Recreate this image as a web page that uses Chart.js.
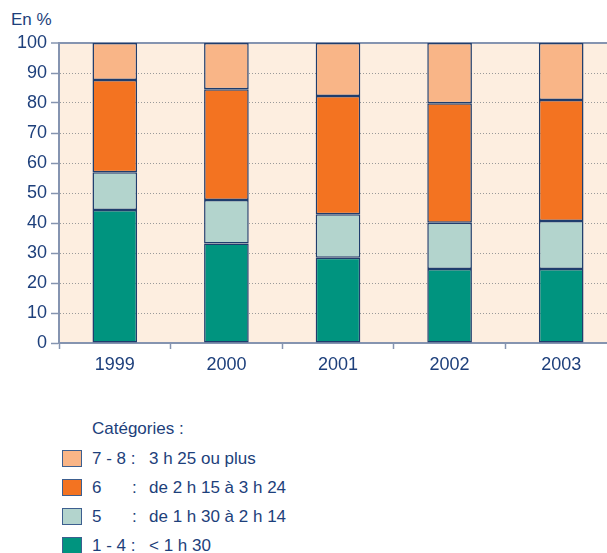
<!DOCTYPE html>
<html>
<head>
<meta charset="utf-8">
<script src="https://cdn.jsdelivr.net/npm/chart.js@4/dist/chart.umd.min.js"></script>
<style>
  body { margin: 0; background: #fff; }
  #page { position: relative; width: 607px; height: 553px; overflow: hidden; font-family: "Liberation Sans", Arial, sans-serif; color: #1d3f7b; }
  #unit { position: absolute; left: 11px; top: 10px; font-size: 17px; }
  #wrap { position: absolute; left: 0; top: 0; width: 617px; height: 380px; }
  #legend { position: absolute; left: 0; top: 419px; font-size: 17px; }
  #legend .title { position: absolute; left: 92px; top: 0; white-space: nowrap; }
  #legend .row { position: absolute; left: 0; height: 20px; width: 400px; }
  #legend .box { position: absolute; left: 62px; top: 1px; width: 18px; height: 15px; border: 1.5px solid #3d5f8f; }
  #legend span { position: absolute; top: 0; white-space: nowrap; }
</style>
</head>
<body>
<div id="page">
  <div id="unit">En %</div>
  <div id="wrap"><canvas id="chart" width="617" height="380"></canvas></div>
  <div id="legend"></div>
</div>
<script>
// data
const years = ['1999', '2000', '2001', '2002', '2003'];
const cat14 = [44.3, 33.2, 28.4, 24.7, 24.7];   // 1 - 4 : < 1 h 30
const cat5 = [12.6, 14.5, 14.5, 15.4, 16.0];    // 5 : de 1 h 30 à 2 h 14
const cat6 = [30.8, 36.9, 39.4, 39.8, 40.3];    // 6 : de 2 h 15 à 3 h 24
const cat78 = [12.3, 15.4, 17.7, 20.1, 19.0];   // 7 - 8 : 3 h 25 ou plus
const yTicks = [0, 10, 20, 30, 40, 50, 60, 70, 80, 90, 100];

const legendTitle = 'Catégories :';
const codes = ['1 - 4', '5', '6', '7 - 8'];
const ranges = ['< 1 h 30', 'de 1 h 30 à 2 h 14', 'de 2 h 15 à 3 h 24', '3 h 25 ou plus'];
const colors = ['#00947f', '#b3d4cd', '#f37321', '#f9b587'];

const textColor = '#1d3f7b';
const axisColor = '#8594b0';

const plotBg = {
    id: 'plotBg',
    beforeDraw(chart) {
        const a = chart.chartArea;
        const ctx = chart.ctx;
        ctx.save();
        ctx.fillStyle = '#fdeee0';
        ctx.fillRect(a.left, a.top, a.right - a.left, a.bottom - a.top);
        ctx.restore();
    }
};

const seriesData = [cat14, cat5, cat6, cat78];

const ctx = document.getElementById('chart').getContext('2d');
new Chart(ctx, {
    type: 'bar',
    data: {
        labels: years,
        datasets: seriesData.map((d, i) => ({
            label: codes[i],
            data: d,
            backgroundColor: colors[i],
            borderColor: '#1f3d6d',
            borderWidth: 1.5,
            borderSkipped: false,
            barPercentage: 0.4,
            categoryPercentage: 1
        }))
    },
    options: {
        responsive: false,
        animation: false,
        layout: { padding: { top: 43, left: 0, right: 0, bottom: 0 } },
        plugins: {
            legend: { display: false },
            tooltip: { enabled: false }
        },
        scales: {
            x: {
                stacked: true,
                grid: {
                    offset: true,
                    drawOnChartArea: false,
                    tickLength: 6,
                    tickColor: axisColor,
                    tickWidth: 1.5
                },
                border: { color: axisColor, width: 2 },
                ticks: {
                    color: textColor,
                    font: { family: '"Liberation Sans", Arial, sans-serif', size: 18 },
                    padding: 5,
                    maxRotation: 0
                },
                afterFit(scale) { scale.height = 37; }
            },
            y: {
                stacked: true,
                min: 0,
                max: 100,
                afterBuildTicks(scale) { scale.ticks = yTicks.map(v => ({ value: v })); },
                grid: {
                    color: c => c.tick && c.tick.value === 100 ? axisColor : '#9a9a9a',
                    lineWidth: c => c.tick && c.tick.value === 100 ? 2 : 1,
                    tickLength: 8,
                    tickColor: axisColor,
                    tickWidth: 1.5
                },
                border: {
                    color: axisColor,
                    width: 2,
                    dash: c => c.tick && (c.tick.value === 100 || c.tick.value === 0) ? [] : [1, 2]
                },
                ticks: {
                    color: textColor,
                    font: { family: '"Liberation Sans", Arial, sans-serif', size: 18 },
                    padding: 4
                },
                afterFit(scale) { scale.width = 59; }
            }
        }
    },
    plugins: [plotBg]
});

// legend, top row is the last series
const legend = document.getElementById('legend');
const t = document.createElement('div');
t.className = 'title';
t.textContent = legendTitle;
legend.appendChild(t);
for (let k = codes.length - 1, r = 0; k >= 0; k--, r++) {
    const row = document.createElement('div');
    row.className = 'row';
    row.style.top = (30 + r * 29) + 'px';
    const box = document.createElement('div');
    box.className = 'box';
    box.style.background = colors[k];
    row.appendChild(box);
    const code = document.createElement('span');
    code.style.left = '92px';
    code.textContent = codes[k].length > 1 ? codes[k] + ' :' : codes[k];
    row.appendChild(code);
    if (codes[k].length === 1) {
        const colon = document.createElement('span');
        colon.style.left = '132px';
        colon.textContent = ':';
        row.appendChild(colon);
    }
    const desc = document.createElement('span');
    desc.style.left = '149px';
    desc.textContent = ranges[k];
    row.appendChild(desc);
    legend.appendChild(row);
}
</script>
</body>
</html>
